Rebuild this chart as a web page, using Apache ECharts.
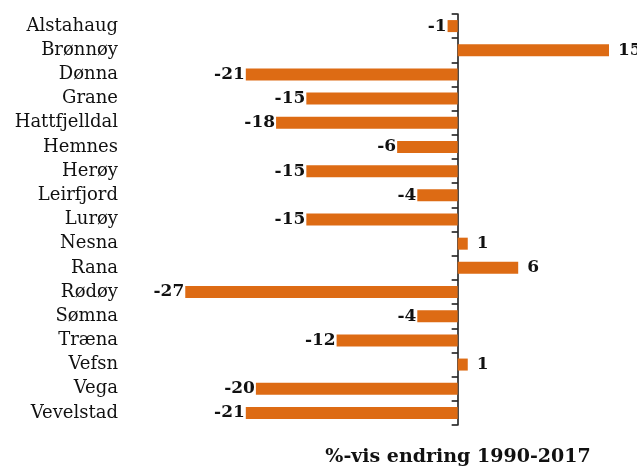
<!DOCTYPE html>
<html>
<head>
<meta charset="utf-8">
<script src="https://cdn.jsdelivr.net/npm/echarts@6/dist/echarts.min.js"></script>
<style>
  html, body { margin: 0; padding: 0; background: #fff; }
  #chart { width: 637px; height: 468px; }
</style>
</head>
<body>
<div id="chart"></div>
<script>
// Municipalities in Helgeland, top to bottom
const kommuner = ['Alstahaug', 'Brønnøy', 'Dønna', 'Grane', 'Hattfjelldal', 'Hemnes', 'Herøy',
  'Leirfjord', 'Lurøy', 'Nesna', 'Rana', 'Rødøy', 'Sømna', 'Træna', 'Vefsn', 'Vega', 'Vevelstad'];
// Percentage change in population 1990-2017
const endring = [-1, 15, -21, -15, -18, -6, -15, -4, -15, 1, 6, -27, -4, -12, 1, -20, -21];
const axisTitle = '%-vis endring 1990-2017';

const serif = 'DejaVu Serif';
const ink = '#111';

const barData = endring.map(v => ({
  value: v,
  label: v < 0
    ? { position: 'left', distance: 1 }
    : { position: 'right', distance: 9 }
}));

const chart = echarts.init(document.getElementById('chart'), null, { renderer: 'canvas' });
chart.setOption({
  animation: false,
  backgroundColor: '#ffffff',
  grid: { left: 155, right: 28, top: 14, height: 411, containLabel: false },
  xAxis: {
    type: 'value', min: -30, max: 15, show: false
  },
  yAxis: [
    {
      type: 'category', data: kommuner, inverse: true, position: 'left',
      axisLine: { show: false, onZero: false },
      axisTick: { show: false },
      axisLabel: { margin: 37, color: ink, fontFamily: serif, fontSize: 18 }
    },
    {
      // zero line with short ticks between the rows
      type: 'category', data: kommuner, inverse: true, position: 'right',
      axisLine: { show: true, onZero: true, lineStyle: { color: ink, width: 1.5 } },
      axisTick: { show: true, inside: true, length: 6, lineStyle: { color: ink, width: 1.5 } },
      axisLabel: { show: false }
    }
  ],
  series: [{
    type: 'bar',
    yAxisIndex: 0,
    data: barData,
    barWidth: 12,
    itemStyle: { color: '#dd6b14' },
    label: {
      show: true, color: ink, fontFamily: serif, fontWeight: 'bold', fontSize: 17
    },
    z: 1
  }],
  graphic: [{
    type: 'text', x: 458, y: 457,
    style: {
      text: axisTitle, fill: ink, font: 'bold 19px "DejaVu Serif"',
      textAlign: 'center', textVerticalAlign: 'middle'
    }
  }]
});
</script>
</body>
</html>
